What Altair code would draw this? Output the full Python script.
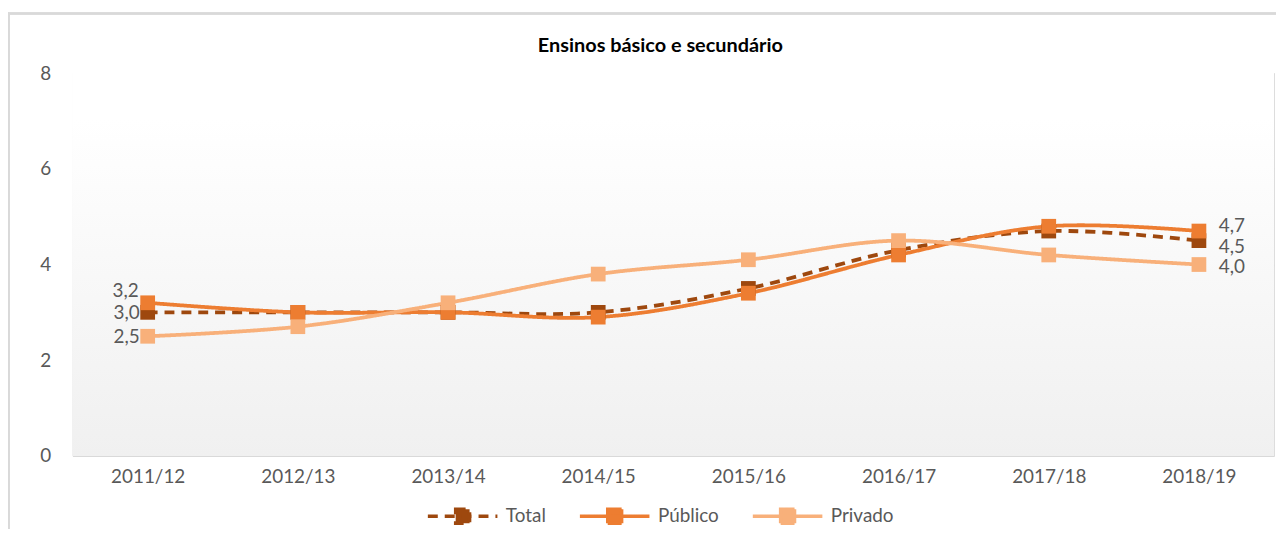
import altair as alt
import pandas as pd

years = ["2011/12", "2012/13", "2013/14", "2014/15", "2015/16", "2016/17", "2017/18", "2018/19"]
series = ["Total", "Público", "Privado"]
total = [3.0, 3.0, 3.0, 3.0, 3.5, 4.3, 4.7, 4.5]
publico = [3.2, 3.0, 3.0, 2.9, 3.4, 4.2, 4.8, 4.7]
privado = [2.5, 2.7, 3.2, 3.8, 4.1, 4.5, 4.2, 4.0]
colors = ["#9E480E", "#ED7D31", "#F8B07A"]
y_ticks = [0, 2, 4, 6, 8]
title_text = "Ensinos básico e secundário"

rows = []
for name, vals in zip(series, [total, publico, privado]):
    for i, (yr, v) in enumerate(zip(years, vals)):
        rows.append({"ano": yr, "serie": name, "valor": v,
                     "label": f"{v:.1f}".replace(".", ","),
                     "pos": "first" if i == 0 else ("last" if i == len(years) - 1 else "mid")})
df = pd.DataFrame(rows)

W, H = 1209, 385
FONT = "Lato"
FS = 19
GRAY = "#595959"

x = alt.X("ano:N", sort=years, title=None,
          scale=alt.Scale(type="point", padding=0.5),
          axis=alt.Axis(labelAngle=0, ticks=False, domain=False, labelPadding=12,
                        labelFontSize=FS, labelColor=GRAY, labelFont=FONT))
y = alt.Y("valor:Q", title=None,
          scale=alt.Scale(domain=[0, 8], nice=False),
          axis=alt.Axis(values=y_ticks, ticks=False, domain=False, grid=True,
                        gridColor="#D9D9D9", gridWidth=1.3, labelPadding=22,
                        labelFontSize=FS, labelColor=GRAY, labelFont=FONT))
color = alt.Color("serie:N", sort=series,
                  scale=alt.Scale(domain=series, range=colors),
                  legend=alt.Legend(title=None, orient="none", direction="horizontal",
                                    legendX=383, legendY=436,
                                    symbolType="M-5,0H5M-1,-1H1V1H-1Z",
                                    symbolSize=196, symbolStrokeWidth=3.5,
                                    labelOffset=34, columnPadding=26,
                                    labelFontSize=FS, labelColor=GRAY, labelFont=FONT))
dash = alt.StrokeDash("serie:N", sort=series,
                      scale=alt.Scale(domain=series, range=[[10, 7], [1, 0], [1, 0]]),
                      legend=None)

bg = alt.Chart(df).mark_rect(
    color=alt.Gradient(gradient="linear", x1=0, y1=0, x2=0, y2=1,
                       stops=[alt.GradientStop(offset=0, color="#FFFFFF"),
                              alt.GradientStop(offset=0.12, color="#FFFFFF"),
                              alt.GradientStop(offset=1, color="#F0F0F0")])
).encode(x=alt.value(0), x2=alt.value(W), y=alt.value(0), y2=alt.value(H))

border = alt.Chart(df).mark_rect(fill="transparent", stroke="#D9D9D9", strokeWidth=1.5).encode(
    x=alt.value(-64), x2=alt.value(W + 10), y=alt.value(-60), y2=alt.value(H + 100))

title = alt.Chart(pd.DataFrame({"t": [title_text]})).mark_text(
    fontSize=20, fontWeight="bold", font=FONT, color="#000000", baseline="middle", align="center"
).encode(x=alt.value(W / 2 - 13), y=alt.value(-27), text="t:N")

base = alt.Chart(df)
lines = base.mark_line(interpolate="catmull-rom", strokeWidth=3.8).encode(
    x=x, y=y, color=color, strokeDash=dash, order=alt.Order("ano:N"))
points = base.mark_point(shape="square", filled=True, size=220, opacity=1).encode(
    x=x, y=y, color=alt.Color("serie:N", sort=series,
                              scale=alt.Scale(domain=series, range=colors), legend=None))

first = base.transform_filter(alt.datum.pos == "first")
last = base.transform_filter(alt.datum.pos == "last")
txt = dict(fontSize=FS, color=GRAY, font=FONT, baseline="middle")
lab_first_pub = first.transform_filter(alt.datum.serie == "Público").mark_text(
    align="right", dx=-9, dy=-12, **txt).encode(x=x, y=y, text="label:N")
lab_first_oth = first.transform_filter(alt.datum.serie != "Público").mark_text(
    align="right", dx=-8, dy=1, **txt).encode(x=x, y=y, text="label:N")
lab_last_tot = last.transform_filter(alt.datum.serie == "Total").mark_text(
    align="left", dx=20, dy=6, **txt).encode(x=x, y=y, text="label:N")
lab_last_pub = last.transform_filter(alt.datum.serie == "Público").mark_text(
    align="left", dx=20, dy=-5, **txt).encode(x=x, y=y, text="label:N")
lab_last_pri = last.transform_filter(alt.datum.serie == "Privado").mark_text(
    align="left", dx=20, dy=3, **txt).encode(x=x, y=y, text="label:N")

chart = alt.layer(border, bg, lines, points, lab_first_pub, lab_first_oth,
                  lab_last_tot, lab_last_pub, lab_last_pri, title).properties(
    width=W, height=H,
    autosize=alt.AutoSizeParams(type="none"),
    padding={"left": 65, "top": 64, "right": 2, "bottom": 72},
).configure_view(stroke=None).configure(background="white")

chart.save("out.html", embed_options={"renderer": "svg", "actions": False})
